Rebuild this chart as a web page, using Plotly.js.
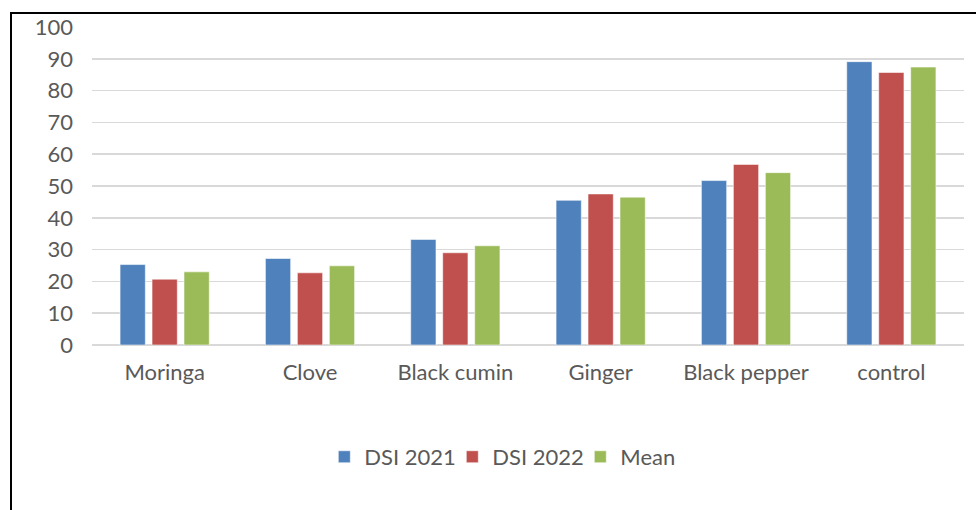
<!DOCTYPE html>
<html>
<head>
<meta charset="utf-8">
<script src="https://cdn.plot.ly/plotly-3.0.1.min.js"></script>
<style>
  html, body { margin: 0; padding: 0; background: #fff; }
  #wrap { position: relative; width: 976px; height: 510px; overflow: hidden; }
  #chart { width: 976px; height: 510px; }
  #frame { position: absolute; left: 10px; top: 12px; width: 980px; height: 520px;
           border-left: 2px solid #000; border-top: 2px solid #000; pointer-events: none; }
</style>
</head>
<body>
<div id="wrap">
  <div id="chart"></div>
  <div id="frame"></div>
</div>
<script>
const categories = ["Moringa", "Clove", "Black cumin", "Ginger", "Black pepper", "control"];
const dsi2021 = [25.3, 27.2, 33.2, 45.5, 51.7, 89.1];
const dsi2022 = [20.7, 22.7, 29.0, 47.5, 56.8, 85.7];
const meanVals = [23.0, 24.9, 31.2, 46.5, 54.2, 87.4];
const seriesNames = ["DSI 2021", "DSI 2022", "Mean"];
const yTicks = [0, 10, 20, 30, 40, 50, 60, 70, 80, 90, 100];

const colors = ["#4F81BD", "#C0504D", "#9BBB59"];
const FONT = "Lato, 'Open Sans', sans-serif";
const TXT = "#595959";

const traces = [dsi2021, dsi2022, meanVals].map((vals, i) => ({
  type: "bar",
  name: seriesNames[i],
  x: categories,
  y: vals,
  marker: { color: colors[i], line: { color: "rgba(255,255,255,0.55)", width: 1 } },
  hoverinfo: "x+y+name"
}));

const layout = {
  width: 976,
  height: 510,
  margin: { l: 92, r: 12, t: 27, b: 165 },
  paper_bgcolor: "#ffffff",
  plot_bgcolor: "#ffffff",
  barmode: "group",
  bargap: 0.34,
  bargroupgap: 0.21,
  font: { family: FONT, size: 22, color: TXT },
  xaxis: {
    type: "category",
    showgrid: false,
    showline: false,
    zeroline: false,
    ticks: "",
    ticklabelstandoff: 12,
    tickfont: { family: FONT, size: 22, color: TXT }
  },
  yaxis: {
    range: [0, 100],
    tickvals: yTicks,
    ticktext: yTicks.map(String),
    showgrid: true,
    gridcolor: "#d9d9d9",
    gridwidth: 1.5,
    zeroline: true,
    zerolinecolor: "#d9d9d9",
    zerolinewidth: 2,
    showline: false,
    ticks: "",
    ticklabelstandoff: 18,
    tickfont: { family: FONT, size: 22, color: TXT }
  },
  showlegend: true,
  legend: {
    orientation: "h",
    xref: "container",
    yref: "container",
    x: 0.529,
    xanchor: "center",
    y: 0.104,
    yanchor: "middle",
    font: { family: FONT, size: 22, color: TXT },
    itemwidth: 30,
    entrywidth: 83,
    entrywidthmode: "pixels",
    bgcolor: "rgba(0,0,0,0)"
  }
};

Plotly.newPlot("chart", traces, layout, { displayModeBar: false, staticPlot: true });
</script>
</body>
</html>
